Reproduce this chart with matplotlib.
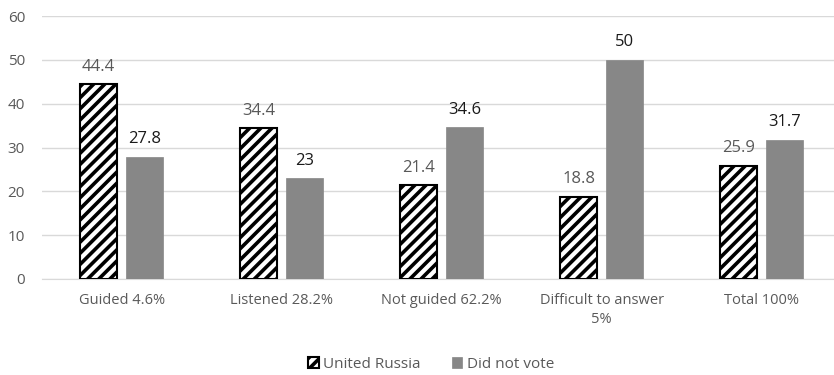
import numpy as np
import matplotlib
matplotlib.use("Agg")
from matplotlib import pyplot as plt

# survey groups and shares per party choice
categories = ["Guided 4.6%", "Listened 28.2%", "Not guided 62.2%",
              "Difficult to answer\n5%", "Total 100%"]
united_russia = [44.4, 34.4, 21.4, 18.8, 25.9]
did_not_vote = [27.8, 23, 34.6, 50, 31.7]
y_ticks = [0, 10, 20, 30, 40, 50, 60]

plt.rcParams['font.family'] = ['Open Sans', 'DejaVu Sans']
plt.rcParams['hatch.linewidth'] = 2.6

fig = plt.figure(figsize=(8.34, 3.75), dpi=100)
# the last category runs a bit past the right border, as in the source chart
ax = fig.add_axes([0.050, 0.256, 0.959, 0.701])

x = np.arange(len(categories))
width = 0.231
gap = 0.056

ur_bars = ax.bar(x - (width + gap) / 2, united_russia, width,
                 color='white', edgecolor='black', linewidth=1.5,
                 hatch='///', label='United Russia', zorder=3)
dnv_bars = ax.bar(x + (width + gap) / 2, did_not_vote, width,
                  color='#878787', edgecolor='#878787', linewidth=0.5,
                  label='Did not vote', zorder=3)

for b, v in zip(ur_bars, united_russia):
    ax.annotate(f"{v:g}", (b.get_x() + b.get_width() / 2, v),
                xytext=(0, 7), textcoords='offset points',
                ha='center', va='bottom', fontsize=12, color='#595959')
for b, v in zip(dnv_bars, did_not_vote):
    ax.annotate(f"{v:g}", (b.get_x() + b.get_width() / 2, v),
                xytext=(0, 7), textcoords='offset points',
                ha='center', va='bottom', fontsize=12, color='#1a1a1a')

ax.set_xlim(-0.5, len(categories) - 0.5)
ax.set_ylim(0, 60)
ax.set_yticks(y_ticks)
ax.set_xticks(x)
ax.set_xticklabels(categories, linespacing=1.35)
ax.tick_params(axis='both', length=0, colors='#595959')
ax.tick_params(axis='x', pad=10, labelsize=10.5)
ax.tick_params(axis='y', pad=12, labelsize=11)
ax.grid(axis='y', color='#d9d9d9', linewidth=1, zorder=0)
for s in ['top', 'right', 'left']:
    ax.spines[s].set_visible(False)
ax.spines['bottom'].set_color('#d9d9d9')

leg = ax.legend(loc='upper center', bbox_to_anchor=(0.487, -0.245), ncol=2,
                frameon=False, fontsize=11, handlelength=0.7, handleheight=0.7,
                columnspacing=2.0, handletextpad=0.3)
for t in leg.get_texts():
    t.set_color('#595959')

fig.savefig("out.png", dpi=100)
